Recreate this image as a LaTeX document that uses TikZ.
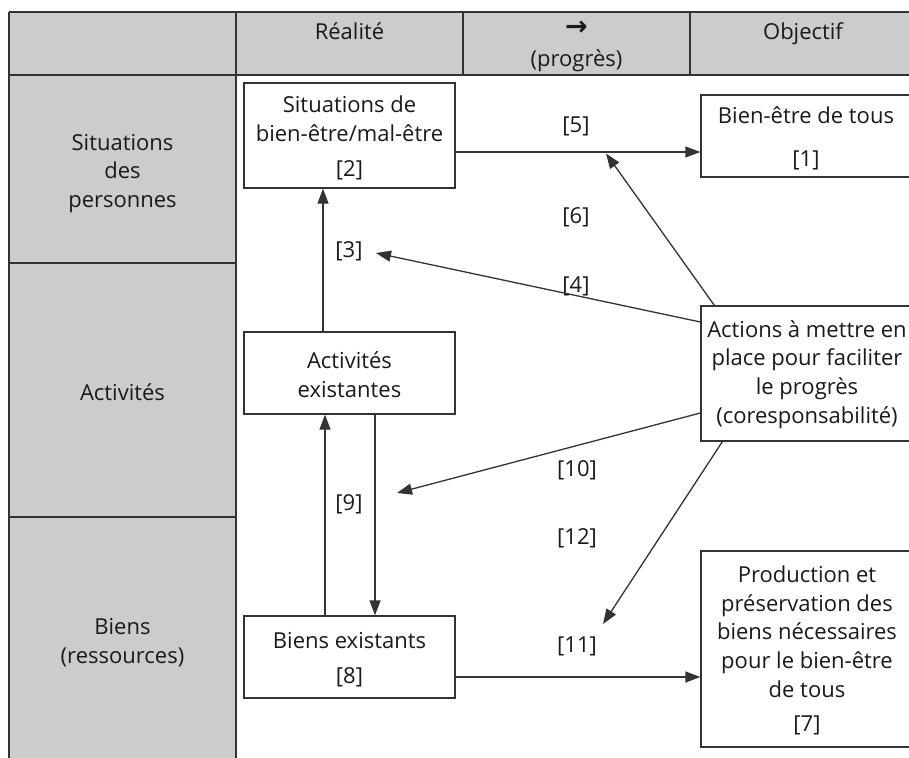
\documentclass[tikz,border=0pt]{standalone}
\usepackage{fontspec}
\setmainfont{Open Sans}
\newfontfamily\arrowfont{DejaVu Sans}
\usetikzlibrary{arrows.meta,calc}
\definecolor{hdr}{HTML}{CCCCCC}
\definecolor{linec}{HTML}{333333}
\definecolor{txtc}{HTML}{1A1A1A}
\newcommand{\fsz}{\fontsize{22}{28.6}\selectfont}
\begin{document}
\begin{tikzpicture}[x=1pt,y=-1pt,
  box/.style={draw=linec, line width=1.3pt, fill=white, inner sep=0pt},
  txt/.style={font=\fsz, text=txtc, inner sep=0pt, align=center, anchor=base},
  num/.style={font=\fsz, text=txtc, inner sep=0pt, anchor=base},
  arr/.style={draw=linec, line width=1.3pt, -{Triangle[length=15pt,width=11pt]}},
  grid/.style={draw=linec, line width=1.3pt}]
\useasboundingbox (0,0) rectangle (909,757);
% table background
\fill[hdr] (9,12) rectangle (915,75);
\fill[hdr] (9,75) rectangle (236,760);
\draw[grid] (9,12) -- (915,12);
\draw[grid] (9,75) -- (915,75);
\draw[grid] (9,12) -- (9,760);
\draw[grid] (236,12) -- (236,760);
\draw[grid] (463,12) -- (463,75);
\draw[grid] (690,12) -- (690,75);
\draw[grid] (9,263) -- (236,263);
\draw[grid] (9,517) -- (236,517);
% header texts
\node[txt] (hreal) at (349.5,40) {Réalité};
\node[font=\arrowfont\bfseries\fontsize{27}{30}\selectfont, text=txtc, inner sep=0pt] (harrow) at (576.5,28.5) {→};
\node[txt] (hprog) at (576.5,67) {(progrès)};
\node[txt] (hobj) at (803,40) {Objectif};
% row labels (base = last line)
\node[txt] (rsit) at (122.5,207.5) {Situations\\des\\personnes};
\node[txt] (ract) at (122.5,400) {Activités};
\node[txt] (rbien) at (122.5,663) {Biens\\(ressources)};
% boxes
\node[box, minimum width=211, minimum height=105] (b2) at (349.5,135.5) {};
\node[box, minimum width=212, minimum height=82] (b1) at (807,136) {};
\node[box, minimum width=211, minimum height=82] (ba) at (349.5,373) {};
\node[box, minimum width=211, minimum height=82] (bb) at (349.5,657) {};
\node[box, minimum width=212, minimum height=135] (bact) at (807,373.5) {};
\node[box, minimum width=212, minimum height=196] (bp) at (807,649) {};
% box texts
\node[txt] (t2) at (349.5,141) {Situations de\\bien-être/mal-être};
\node[txt] (t2n) at (349.5,176) {[2]};
\node[txt] (t1) at (806,123) {Bien-être de tous};
\node[txt] (t1n) at (806,166) {[1]};
\node[txt] (ta) at (349.5,397) {Activités\\existantes};
\node[txt] (tb) at (349.5,648) {Biens existants};
\node[txt] (tbn) at (349.5,683) {[8]};
\node[txt] (tact) at (807,423) {Actions à mettre en\\place pour faciliter\\le progrès\\(coresponsabilité)};
\node[txt] (tp) at (807,697) {Production et\\préservation des\\biens nécessaires\\pour le bien-être\\de tous};
\node[txt] (tpn) at (807,731) {[7]};
% number labels
\node[num] (n5) at (576,132) {[5]};
\node[num] (n6) at (576,223) {[6]};
\node[num] (n4) at (576,292) {[4]};
\node[num] (n3) at (349,257) {[3]};
\node[num] (n9) at (349,510) {[9]};
\node[num] (n10) at (577,476) {[10]};
\node[num] (n12) at (577,544) {[12]};
\node[num] (n11) at (577,652) {[11]};
% arrow end points
\coordinate (m5) at (606,153.5);
\coordinate (e3) at (376,253);
\coordinate (e10) at (397,493);
\coordinate (e11) at (603,624);
% connectors
\draw[arr] (b2.east |- 0,152) -- (b1.west |- 0,152);
\draw[arr] ([xshift=14]bact.north west) -- (m5);
\draw[arr] (bact.west |- 0,322) -- (e3);
\draw[arr] ([xshift=-26.5]ba.north) -- ([xshift=-26.5]b2.south);
\draw[arr] ([xshift=25.5]ba.south) -- ([xshift=25.5]bb.north);
\draw[arr] ([xshift=-24.5]bb.north) -- ([xshift=-24.5]ba.south);
\draw[arr] (bact.west |- 0,413) -- (e10);
\draw[arr] ([xshift=22]bact.south west) -- (e11);
\draw[arr] (bb.east |- 0,677) -- (bp.west |- 0,677);
\end{tikzpicture}
\end{document}
